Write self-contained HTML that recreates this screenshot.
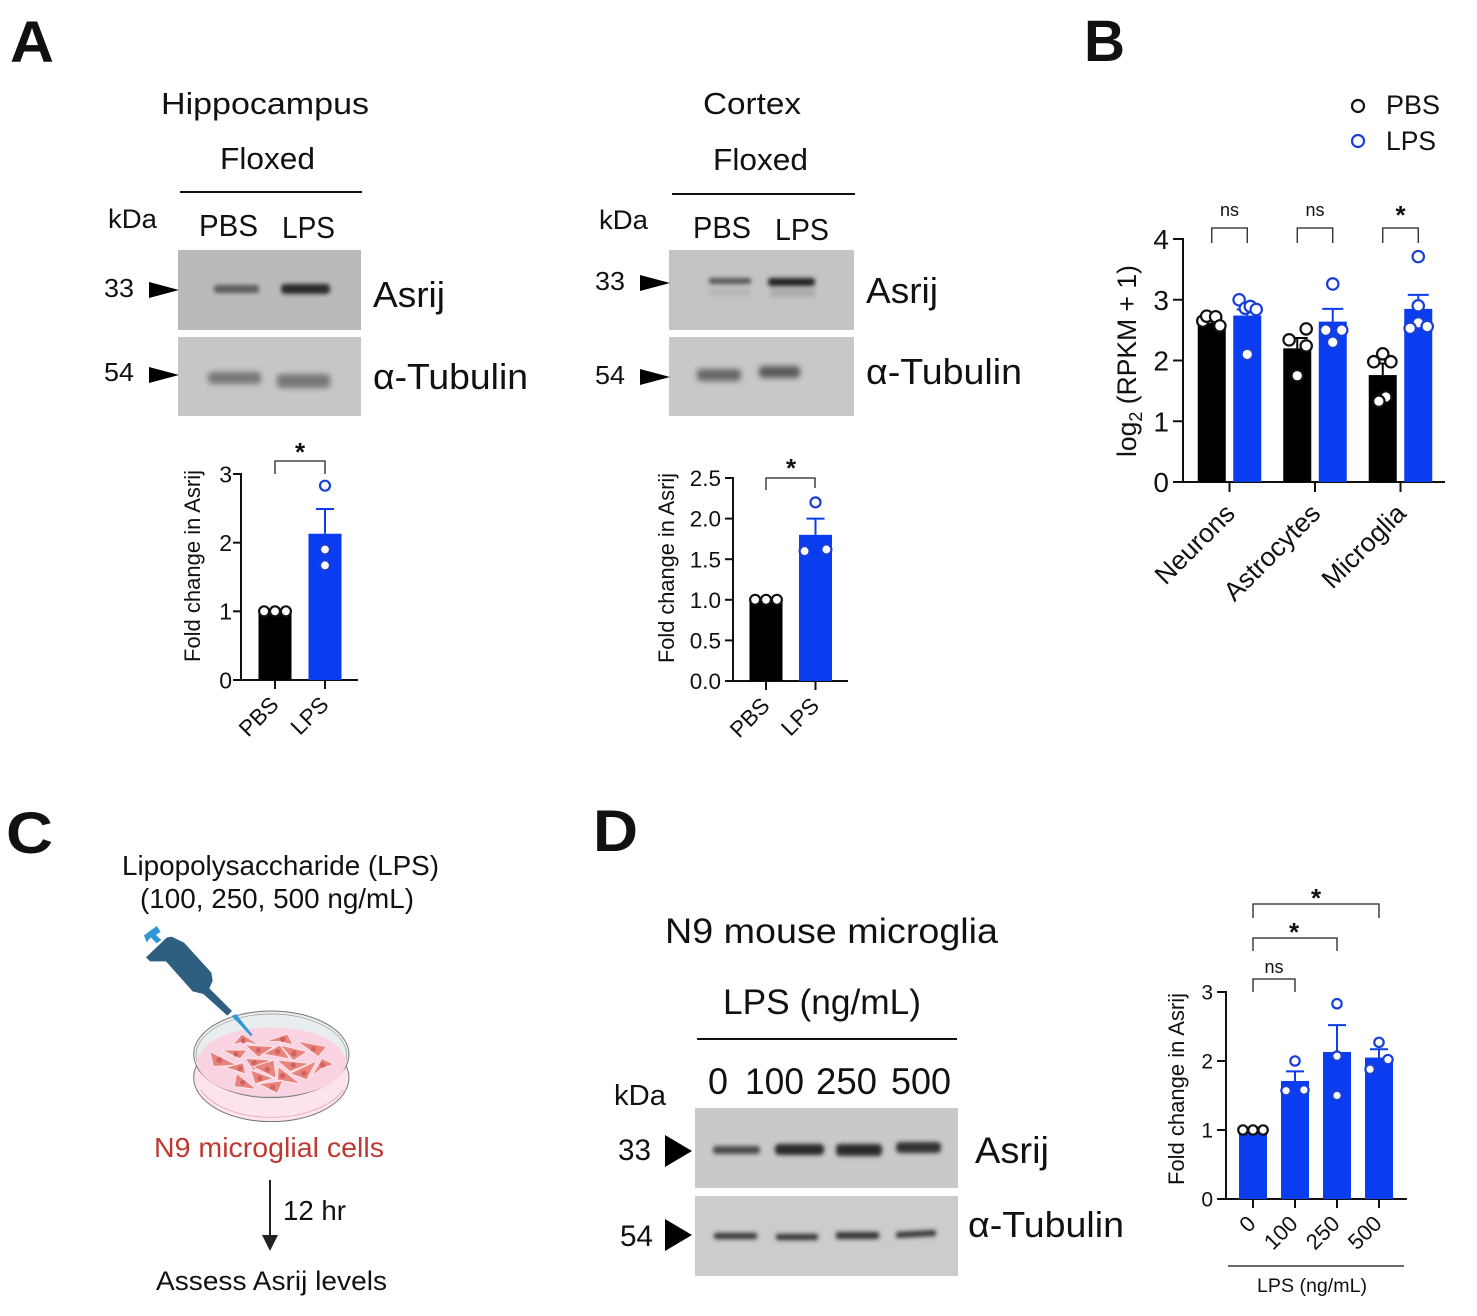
<!DOCTYPE html>
<html lang="en">
<head>
<meta charset="utf-8">
<title>Asrij levels after LPS treatment</title>
<style>
html,body{margin:0;padding:0;background:#fff;}
svg{display:block;font-family:"Liberation Sans",sans-serif;}
text{fill:#111;}
</style>
</head>
<body>
<svg id="fig" xmlns="http://www.w3.org/2000/svg" width="1477" height="1316" viewBox="0 0 1477 1316">
<defs>
<filter id="blur2" x="-30%" y="-100%" width="160%" height="300%"><feGaussianBlur stdDeviation="2"/></filter>
<filter id="blur3" x="-30%" y="-150%" width="160%" height="400%"><feGaussianBlur stdDeviation="3"/></filter>
</defs>
<rect width="1477" height="1316" fill="#fff"/>

<text x="10" y="62" font-size="58" font-weight="700" textLength="44" lengthAdjust="spacingAndGlyphs">A</text>
<text x="1084" y="61" font-size="58" font-weight="700" textLength="41" lengthAdjust="spacingAndGlyphs">B</text>
<text x="6" y="853" font-size="58" font-weight="700" textLength="47" lengthAdjust="spacingAndGlyphs">C</text>
<text x="593" y="851" font-size="58" font-weight="700" textLength="45" lengthAdjust="spacingAndGlyphs">D</text>

<g>
<text x="161" y="114" font-size="31" textLength="208" lengthAdjust="spacingAndGlyphs">Hippocampus</text>
<text x="220" y="169" font-size="31" textLength="95" lengthAdjust="spacingAndGlyphs">Floxed</text>
<line x1="180" y1="192" x2="362" y2="192" stroke="#111" stroke-width="2"/>
<text x="108" y="228" font-size="27" textLength="49" lengthAdjust="spacingAndGlyphs">kDa</text>
<text x="199" y="236" font-size="31" textLength="59" lengthAdjust="spacingAndGlyphs">PBS</text>
<text x="282" y="238" font-size="31" textLength="53" lengthAdjust="spacingAndGlyphs">LPS</text>
<rect x="178" y="250" width="183" height="80" fill="#bababa"/>
<rect x="214" y="285" width="45" height="8" rx="3" fill="#5c5c5c" filter="url(#blur2)"/>
<rect x="281" y="284" width="49" height="10" rx="4" fill="#2c2c2c" filter="url(#blur2)"/>
<rect x="178" y="337" width="183" height="79" fill="#c6c6c6"/>
<rect x="208" y="372" width="53" height="12" rx="4" fill="#777" filter="url(#blur3)"/>
<rect x="277" y="374" width="53" height="14" rx="4" fill="#777" filter="url(#blur3)"/>
<polygon points="149,282 179,290 149,298" fill="#000"/>
<polygon points="149,367 179,375 149,383" fill="#000"/>
<text x="104" y="297" font-size="26" textLength="30" lengthAdjust="spacingAndGlyphs">33</text>
<text x="104" y="381" font-size="26" textLength="30" lengthAdjust="spacingAndGlyphs">54</text>
<text x="373" y="307" font-size="36" textLength="72" lengthAdjust="spacingAndGlyphs">Asrij</text>
<text x="373" y="389" font-size="36" textLength="155" lengthAdjust="spacingAndGlyphs">α-Tubulin</text>
</g>

<g>
<text x="703" y="114" font-size="31" textLength="98" lengthAdjust="spacingAndGlyphs">Cortex</text>
<text x="713" y="170" font-size="31" textLength="95" lengthAdjust="spacingAndGlyphs">Floxed</text>
<line x1="672" y1="194" x2="855" y2="194" stroke="#111" stroke-width="2"/>
<text x="599" y="229" font-size="27" textLength="49" lengthAdjust="spacingAndGlyphs">kDa</text>
<text x="693" y="238" font-size="31" textLength="58" lengthAdjust="spacingAndGlyphs">PBS</text>
<text x="775" y="240" font-size="31" textLength="54" lengthAdjust="spacingAndGlyphs">LPS</text>
<rect x="669" y="250" width="185" height="80" fill="#c4c4c4"/>
<rect x="710" y="288" width="40" height="8" fill="#b6b6b6" filter="url(#blur2)"/>
<rect x="770" y="288" width="45" height="9" fill="#adadad" filter="url(#blur2)"/>
<rect x="709" y="278" width="42" height="6" rx="2" fill="#555" filter="url(#blur2)"/>
<rect x="768" y="278" width="47" height="8" rx="3" fill="#242424" filter="url(#blur2)"/>
<rect x="669" y="337" width="185" height="79" fill="#c8c8c8"/>
<rect x="697" y="369" width="44" height="12" rx="4" fill="#666" filter="url(#blur3)"/>
<rect x="759" y="366" width="41" height="12" rx="4" fill="#5a5a5a" filter="url(#blur3)"/>
<polygon points="640,275 670,283 640,291" fill="#000"/>
<polygon points="640,369 670,377 640,385" fill="#000"/>
<text x="595" y="290" font-size="26" textLength="30" lengthAdjust="spacingAndGlyphs">33</text>
<text x="595" y="384" font-size="26" textLength="30" lengthAdjust="spacingAndGlyphs">54</text>
<text x="866" y="303" font-size="36" textLength="72" lengthAdjust="spacingAndGlyphs">Asrij</text>
<text x="866" y="384" font-size="36" textLength="156" lengthAdjust="spacingAndGlyphs">α-Tubulin</text>
</g>

<g>
<circle cx="1358" cy="106" r="6" fill="none" stroke="#111" stroke-width="2.2"/>
<text x="1386" y="114" font-size="27" textLength="54" lengthAdjust="spacingAndGlyphs">PBS</text>
<circle cx="1358" cy="141" r="6" fill="none" stroke="#1a3fd8" stroke-width="2.2"/>
<text x="1386" y="150" font-size="27" textLength="50" lengthAdjust="spacingAndGlyphs">LPS</text>
</g>

<g>
<text x="122" y="875" font-size="28" textLength="317" lengthAdjust="spacingAndGlyphs">Lipopolysaccharide (LPS)</text>
<text x="140" y="908" font-size="28" textLength="274" lengthAdjust="spacingAndGlyphs">(100, 250, 500 ng/mL)</text>
<g transform="translate(130 910) scale(.33333)">
<ellipse cx="424" cy="503" rx="233" ry="132" fill="#fce3ec" stroke="#777" stroke-width="3"/>
<path d="M212 540C250 595 340 622 424 622S600 595 640 540" fill="none" stroke="#d9a5b8" stroke-width="2"/>
<ellipse cx="424" cy="433" rx="233" ry="130" fill="#e8eef0" stroke="#777" stroke-width="3"/>
<ellipse cx="424" cy="436" rx="226" ry="124" fill="none" stroke="#999" stroke-width="2"/>
<path d="M200 455C218 380 330 352 424 352S635 380 650 455C640 530 520 560 424 560S212 530 200 455Z" fill="#f9d3e1"/>
<g fill="#e9847c" stroke="#fbe6ec" stroke-width="3">
<polygon points="308,405 335,372 390,405 340,395"/>
<polygon points="405,395 472,372 490,405 450,395"/>
<polygon points="500,393 590,410 565,440 538,420"/>
<polygon points="240,425 322,465 250,470"/>
<polygon points="275,420 352,420 330,447"/>
<polygon points="345,405 432,410 385,442"/>
<polygon points="398,432 450,405 480,447"/>
<polygon points="450,405 532,425 490,452"/>
<polygon points="285,472 340,458 347,492"/>
<polygon points="345,445 422,450 370,482"/>
<polygon points="368,470 432,450 438,505"/>
<polygon points="440,450 540,460 480,485"/>
<polygon points="445,470 512,522 442,510"/>
<polygon points="480,490 560,452 530,510"/>
<polygon points="545,500 575,445 612,463 575,475"/>
<polygon points="320,490 380,538 312,530"/>
<polygon points="362,480 430,505 375,522"/>
<polygon points="385,522 458,512 442,550"/>
</g>
<g fill="#d2625f">
<circle cx="340" cy="392" r="8"/><circle cx="458" cy="388" r="8"/>
<circle cx="550" cy="417" r="8"/><circle cx="268" cy="450" r="9"/>
<circle cx="318" cy="432" r="8"/><circle cx="385" cy="420" r="8"/>
<circle cx="443" cy="425" r="8"/><circle cx="492" cy="430" r="8"/>
<circle cx="330" cy="476" r="8"/><circle cx="373" cy="458" r="8"/>
<circle cx="412" cy="478" r="8"/><circle cx="490" cy="465" r="8"/>
<circle cx="458" cy="497" r="8"/><circle cx="522" cy="490" r="8"/>
<circle cx="578" cy="465" r="8"/><circle cx="338" cy="518" r="8"/>
<circle cx="390" cy="505" r="8"/><circle cx="428" cy="532" r="8"/>
</g>
<polygon points="305,318 318,312 368,375 362,378" fill="#2e97d4"/>
<polygon points="48,142 110,83 125,80 162,98 244,188 248,212 238,235 306,303 292,317 220,252 188,244 108,154 60,154" fill="#2f5f80"/>
<polygon points="42,76 80,48 92,65 78,75 94,90 80,100 62,82 50,97" fill="#2e97d4"/>
</g>
<text x="154" y="1157" font-size="28" style="fill:#bd3a32" textLength="230" lengthAdjust="spacingAndGlyphs">N9 microglial cells</text>
<line x1="270" y1="1180" x2="270" y2="1238" stroke="#222" stroke-width="2"/>
<polygon points="262,1235 278,1235 270,1251" fill="#222"/>
<text x="283" y="1220" font-size="28" textLength="63" lengthAdjust="spacingAndGlyphs">12 hr</text>
<text x="156" y="1290" font-size="27" textLength="231" lengthAdjust="spacingAndGlyphs">Assess Asrij levels</text>
</g>

<g>
<text x="665" y="943" font-size="35" textLength="333" lengthAdjust="spacingAndGlyphs">N9 mouse microglia</text>
<text x="723" y="1014" font-size="35" textLength="198" lengthAdjust="spacingAndGlyphs">LPS (ng/mL)</text>
<line x1="697" y1="1039" x2="957" y2="1039" stroke="#111" stroke-width="2"/>
<text x="708" y="1094" font-size="37" textLength="20" lengthAdjust="spacingAndGlyphs">0</text>
<text x="745" y="1094" font-size="37" textLength="59" lengthAdjust="spacingAndGlyphs">100</text>
<text x="816" y="1094" font-size="37" textLength="61" lengthAdjust="spacingAndGlyphs">250</text>
<text x="891" y="1094" font-size="37" textLength="60" lengthAdjust="spacingAndGlyphs">500</text>
<text x="614" y="1105" font-size="29" textLength="52" lengthAdjust="spacingAndGlyphs">kDa</text>
<rect x="695" y="1108" width="263" height="80" fill="#c9c9c9"/>
<rect x="713" y="1146" width="47" height="8" rx="3" fill="#484848" filter="url(#blur2)"/>
<rect x="775" y="1144" width="49" height="11" rx="4" fill="#2c2c2c" filter="url(#blur2)"/>
<rect x="836" y="1144" width="46" height="12" rx="4" fill="#2c2c2c" filter="url(#blur2)"/>
<rect x="896" y="1142" width="45" height="11" rx="4" fill="#333" filter="url(#blur2)"/>
<rect x="695" y="1196" width="263" height="80" fill="#cccccc"/>
<rect x="714" y="1233" width="43" height="6" rx="2" fill="#333" filter="url(#blur2)"/>
<rect x="776" y="1234" width="42" height="6" rx="2" fill="#333" filter="url(#blur2)"/>
<rect x="836" y="1232" width="43" height="7" rx="2" fill="#333" filter="url(#blur2)"/>
<rect x="896" y="1231" width="40" height="6" rx="2" fill="#333" filter="url(#blur2)" transform="rotate(-3 916 1234)"/>
<polygon points="665,1135 692,1151 665,1167" fill="#000"/>
<polygon points="665,1219 692,1235 665,1251" fill="#000"/>
<text x="618" y="1160" font-size="30" textLength="33" lengthAdjust="spacingAndGlyphs">33</text>
<text x="620" y="1246" font-size="30" textLength="33" lengthAdjust="spacingAndGlyphs">54</text>
<text x="975" y="1163" font-size="37" textLength="74" lengthAdjust="spacingAndGlyphs">Asrij</text>
<text x="968" y="1237" font-size="36" textLength="156" lengthAdjust="spacingAndGlyphs">α-Tubulin</text>
</g>

<g id="chart-hippocampus"></g>
<g id="chart-cortex"></g>
<g id="chart-rnaseq"></g>
<g id="chart-n9"></g>

<g>
<line x1="1228" y1="1266" x2="1404" y2="1266" stroke="#111" stroke-width="1.3"/>
<text x="1257" y="1292" font-size="19" textLength="110" lengthAdjust="spacingAndGlyphs">LPS (ng/mL)</text>
</g>
</svg>

<script>
// Hippocampus chart data
const hipCategories = ['PBS', 'LPS'];
const hipMeans = [1, 2.13];
const hipSem = [0, 0.36];
const hipPoints = [[1, 1, 1], [2.83, 1.9, 1.67]];
const hipTicks = ['0', '1', '2', '3'];

// Cortex chart data
const ctxCategories = ['PBS', 'LPS'];
const ctxMeans = [1, 1.8];
const ctxSem = [0, 0.2];
const ctxPoints = [[1, 1, 1], [2.2, 1.6, 1.62]];
const ctxTicks = ['0.0', '0.5', '1.0', '1.5', '2.0', '2.5'];

// RNA-seq chart data
const rnaCategories = ['Neurons', 'Astrocytes', 'Microglia'];
const rnaTicks = ['0', '1', '2', '3', '4'];
const rnaPbsMeans = [2.62, 2.2, 1.76];
const rnaLpsMeans = [2.74, 2.64, 2.85];
const rnaPbsSem = [0.08, 0.17, 0.19];
const rnaLpsSem = [0.1, 0.21, 0.23];
const rnaPbsPoints = [[2.65, 2.73, 2.72, 2.57], [2.34, 2.52, 2.24, 1.75], [2.11, 1.98, 1.98, 1.4, 1.33]];
const rnaLpsPoints = [[3.0, 2.86, 2.89, 2.84, 2.1], [3.26, 2.5, 2.5, 2.3], [3.71, 2.9, 2.62, 2.53, 2.56]];
const rnaSignificance = ['ns', 'ns', '*'];

// N9 chart data
const n9Categories = ['0', '100', '250', '500'];
const n9Means = [1, 1.71, 2.13, 2.05];
const n9Sem = [0, 0.14, 0.39, 0.12];
const n9Points = [[1, 1, 1], [2.0, 1.57, 1.58], [2.83, 2.07, 1.5], [2.27, 1.88, 2.02]];
const n9Ticks = ['0', '1', '2', '3'];

const BLACK = '#000';
const BLUE = '#0a3df0';
const BLUE_STROKE = '#1a3fd8';
const NS = 'http://www.w3.org/2000/svg';

function make(tag, attrs, parent, content) {
  const el = document.createElementNS(NS, tag);
  for (const k in attrs) el.setAttribute(k, attrs[k]);
  if (content !== undefined) el.textContent = content;
  parent.appendChild(el);
  return el;
}

function linearScale(domainMax, y0, yMax) {
  return function (v) { return y0 - (v / domainMax) * (y0 - yMax); };
}

function drawAxes(root, o) {
  const yAxis = make('line', { x1: o.axisX, y1: o.y0 + 1, x2: o.axisX, y2: o.yTop - 1, stroke: '#111', 'stroke-width': 2 }, root);
  
  
  const xAxis = make('line', { x1: o.xStart, y1: o.y0, x2: o.xEnd, y2: o.y0, stroke: '#111', 'stroke-width': 2 }, root);
  
  
  const domainMax = parseFloat(o.ticks[o.ticks.length - 1]);
  const y = linearScale(domainMax, o.y0, o.yTop);
  o.ticks.forEach(function (t) {
    const v = parseFloat(t);
    if (v !== 0) {
      const mark = make('line', { x1: o.xStart, y1: y(v), x2: o.axisX, y2: y(v), stroke: '#111', 'stroke-width': 2 }, root);
      
      
    }
    const label = make('text', { x: o.tickLabelX, y: y(v) + o.tickFont * 0.36, 'font-size': o.tickFont, 'text-anchor': 'end' }, root, t);
    
    
  });
  return y;
}

function drawYTitle(root, prefix, text, x, cy, size, length) {
  const title = make('text', { transform: 'rotate(-90 ' + x + ' ' + cy + ')', x: x, y: cy, 'font-size': size, 'text-anchor': 'middle', textLength: length, lengthAdjust: 'spacingAndGlyphs' }, root, text);
  
  
}

function drawXLabel(root, prefix, text, tickX, o) {
  const mark = make('line', { x1: tickX, y1: o.y0, x2: tickX, y2: o.y0 + o.tickLen, stroke: '#111', 'stroke-width': 2 }, root);
  
  
  const ax = tickX + o.labelDx;
  const ay = o.y0 + o.labelDy;
  const label = make('text', { x: ax, y: ay, 'font-size': o.labelFont, 'text-anchor': 'end', transform: 'rotate(-45 ' + ax + ' ' + ay + ')' }, root, text);
  
  
}

function drawSeriesBar(root, prefix, cx, width, mean, sem, pts, jitter, y, fill, stroke, capWidth, r) {
  const bar = make('rect', { x: cx - width / 2, y: y(mean), width: width, height: y(0) - y(mean), fill: fill }, root);
  
  
  if (sem > 0) {
    const stem = make('line', { x1: cx, x2: cx, y1: y(mean), y2: y(mean + sem), stroke: fill, 'stroke-width': 2 }, root);
    
    
    const cap = make('line', { x1: cx - capWidth / 2, x2: cx + capWidth / 2, y1: y(mean + sem), y2: y(mean + sem), stroke: fill, 'stroke-width': 2 }, root);
    
    
  }
  pts.forEach(function (v, i) {
    const dot = make('circle', { cx: cx + (jitter[i] || 0) * width, cy: y(v), r: r, fill: '#fff', stroke: stroke, 'stroke-width': 2.2 }, root);
    
    
  });
}

function drawBracket(root, name, x1, x2, top, dropLeft, dropRight) {
  const path = make('path', { d: 'M' + x1 + ' ' + (top + dropLeft) + 'V' + top + 'H' + x2 + 'V' + (top + dropRight), fill: 'none', stroke: '#222', 'stroke-width': 1.3 }, root);
  
  
}

function drawSigLabel(root, name, text, x, y) {
  const isStar = text === '*';
  const label = make('text', { x: x, y: isStar ? y + 11 : y, 'font-size': isStar ? 26 : 18, 'font-weight': isStar ? 700 : 400, 'text-anchor': 'middle' }, root, text);
  
  
}

/* ---------- Hippocampus ---------- */
(function () {
  const root = document.getElementById('chart-hippocampus');
  const o = { prefix: 'hippocampus', axisX: 241, y0: 680, yTop: 474, xStart: 233, xEnd: 358, ticks: hipTicks, tickLabelX: 232, tickFont: 23 };
  const y = drawAxes(root, o);
  const centre = function (i) { return 275 + i * 50; };
  const jitters = [[-0.33, 0, 0.33], [0, 0, 0]];
  hipCategories.forEach(function (c, i) {
    drawSeriesBar(root, 'hippocampus-' + c.toLowerCase(), centre(i), 33, hipMeans[i], hipSem[i], hipPoints[i], jitters[i], y, i ? BLUE : BLACK, i ? BLUE_STROKE : '#111', 18, 5);
    drawXLabel(root, 'hippocampus', c, centre(i), { y0: 680, tickLen: 9, labelDx: 5, labelDy: 26, labelFont: 22.5 });
  });
  drawYTitle(root, 'hippocampus', 'Fold change in Asrij', 200, 566, 22, 192);
  drawBracket(root, 'hippocampus-significance-bracket', 275, 325, 461, 13, 13);
  drawSigLabel(root, 'hippocampus-significance-star', '*', 300, 450);
})();

/* ---------- Cortex ---------- */
(function () {
  const root = document.getElementById('chart-cortex');
  const o = { prefix: 'cortex', axisX: 733, y0: 681, yTop: 478, xStart: 725, xEnd: 848, ticks: ctxTicks, tickLabelX: 721, tickFont: 22.5 };
  const y = drawAxes(root, o);
  const centre = function (i) { return 766 + i * 49.5; };
  const jitters = [[-0.33, 0, 0.33], [0, -0.33, 0.33]];
  ctxCategories.forEach(function (c, i) {
    drawSeriesBar(root, 'cortex-' + c.toLowerCase(), centre(i), 33, ctxMeans[i], ctxSem[i], ctxPoints[i], jitters[i], y, i ? BLUE : BLACK, i ? BLUE_STROKE : '#111', 18, 5);
    drawXLabel(root, 'cortex', c, centre(i), { y0: 681, tickLen: 9, labelDx: 5, labelDy: 26, labelFont: 22.5 });
  });
  drawYTitle(root, 'cortex', 'Fold change in Asrij', 674, 568, 22, 190);
  drawBracket(root, 'cortex-significance-bracket', 766, 815, 478, 12, 10);
  drawSigLabel(root, 'cortex-significance-star', '*', 791, 466);
})();

/* ---------- RNA-seq ---------- */
(function () {
  const root = document.getElementById('chart-rnaseq');
  const o = { prefix: 'rnaseq', axisX: 1183, y0: 482, yTop: 239, xStart: 1173, xEnd: 1445, ticks: rnaTicks, tickLabelX: 1169, tickFont: 28 };
  const y = drawAxes(root, o);
  const groupX = function (g) { return 1229.5 + g * 85.5; };
  const pbsJitter = [[-0.32, -0.18, 0.14, 0.29], [-0.29, 0.32, 0.32, 0], [0, -0.32, 0.29, 0.11, -0.14]];
  const lpsJitter = [[-0.29, -0.07, 0.11, 0.32, 0], [0, -0.25, 0.32, 0], [0, 0, 0, -0.29, 0.32]];
  rnaCategories.forEach(function (c, g) {
    const cx = groupX(g);
    drawSeriesBar(root, 'rnaseq-' + c.toLowerCase() + '-pbs', cx - 17.75, 28, rnaPbsMeans[g], rnaPbsSem[g], rnaPbsPoints[g], pbsJitter[g], y, BLACK, '#111', 21, 5.7);
    drawSeriesBar(root, 'rnaseq-' + c.toLowerCase() + '-lps', cx + 17.75, 28, rnaLpsMeans[g], rnaLpsSem[g], rnaLpsPoints[g], lpsJitter[g], y, BLUE, BLUE_STROKE, 21, 5.7);
    drawXLabel(root, 'rnaseq', c, cx, { y0: 482, tickLen: 10, labelDx: 7, labelDy: 33, labelFont: 26.5 });
    drawBracket(root, 'rnaseq-' + c.toLowerCase() + '-bracket', cx - 17.75, cx + 17.75, 228, 15, 15);
    drawSigLabel(root, 'rnaseq-' + c.toLowerCase() + '-significance', rnaSignificance[g], cx, rnaSignificance[g] === '*' ? 213 : 216);
  });
  const title = make('text', { transform: 'rotate(-90 1136 361)', x: 1136, y: 361, 'font-size': 26.5, 'text-anchor': 'middle' }, root);
  
  
  make('tspan', {}, title, 'log');
  make('tspan', { 'font-size': 18, dy: 6 }, title, '2');
  make('tspan', { dy: -6 }, title, ' (RPKM + 1)');
})();

/* ---------- N9 ---------- */
(function () {
  const root = document.getElementById('chart-n9');
  const o = { prefix: 'n9', axisX: 1226, y0: 1199, yTop: 992, xStart: 1217, xEnd: 1407, ticks: n9Ticks, tickLabelX: 1213, tickFont: 21 };
  const y = drawAxes(root, o);
  const centre = function (i) { return 1253 + i * 42; };
  const jitters = [[-0.36, 0, 0.36], [0, -0.32, 0.32], [0, 0, 0], [0, -0.32, 0.32]];
  n9Categories.forEach(function (c, i) {
    drawSeriesBar(root, 'n9-dose-' + c, centre(i), 28, n9Means[i], n9Sem[i], n9Points[i], jitters[i], y, BLUE, i ? BLUE_STROKE : '#111', 18, 4.7);
    drawXLabel(root, 'n9', c, centre(i), { y0: 1199, tickLen: 9, labelDx: 4, labelDy: 26, labelFont: 22 });
  });
  drawYTitle(root, 'n9', 'Fold change in Asrij', 1184, 1089, 22, 192);
  drawBracket(root, 'n9-bracket-100', centre(0), centre(1), 979, 13, 13);
  drawSigLabel(root, 'n9-significance-100', 'ns', (centre(0) + centre(1)) / 2, 973);
  drawBracket(root, 'n9-bracket-250', centre(0), centre(2), 938, 13, 13);
  drawSigLabel(root, 'n9-significance-250', '*', (centre(0) + centre(2)) / 2 - 1, 930);
  drawBracket(root, 'n9-bracket-500', centre(0), centre(3), 904, 14, 14);
  drawSigLabel(root, 'n9-significance-500', '*', (centre(0) + centre(3)) / 2, 896);
})();
</script>
</body>
</html>
